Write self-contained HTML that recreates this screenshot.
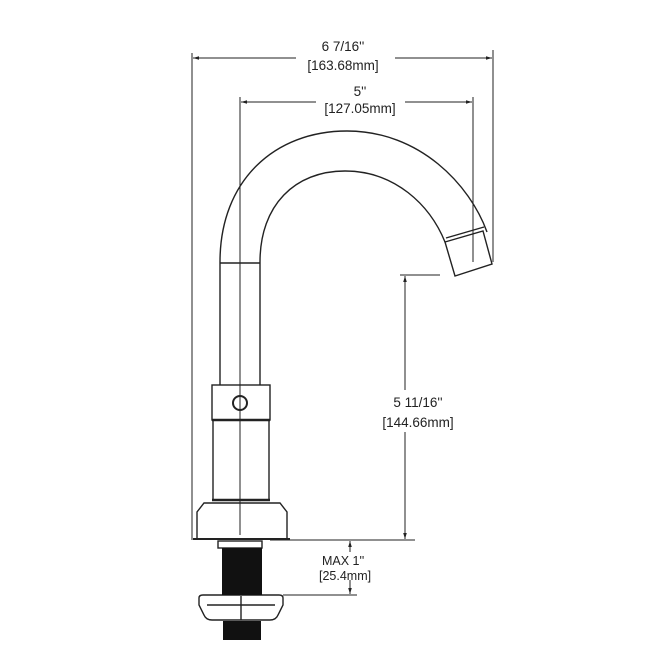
<!DOCTYPE html>
<html><head><style>html,body{margin:0;padding:0;background:#fff}svg{display:block}text{font-family:"Liberation Sans",sans-serif;font-size:13.5px;fill:#222}</style></head><body>
<svg width="668" height="671" viewBox="0 0 668 671" xmlns="http://www.w3.org/2000/svg">
<defs><marker id="a" viewBox="0 0 10 10" refX="10" refY="5" markerWidth="8" markerHeight="6" orient="auto-start-reverse"><path d="M0,2 L10,5 L0,8z" fill="#222"/></marker></defs>
<g stroke="#222" stroke-width="1" fill="none">
<line x1="192" y1="53" x2="192" y2="540"/>
<line x1="493" y1="50" x2="493" y2="262"/>
<line x1="193" y1="58" x2="296" y2="58" marker-start="url(#a)"/>
<line x1="395" y1="58" x2="492" y2="58" marker-end="url(#a)"/>
<line x1="240" y1="97" x2="240" y2="535"/>
<line x1="473" y1="97" x2="473" y2="262"/>
<line x1="241" y1="102" x2="316" y2="102" marker-start="url(#a)"/>
<line x1="405" y1="102" x2="472" y2="102" marker-end="url(#a)"/>
<line x1="400" y1="275" x2="440" y2="275"/>
<line x1="405" y1="276" x2="405" y2="390" marker-start="url(#a)"/>
<line x1="405" y1="432" x2="405" y2="539" marker-end="url(#a)"/>
<line x1="270" y1="540" x2="415" y2="540"/>
<line x1="283" y1="595" x2="357" y2="595"/>
<line x1="350" y1="541" x2="350" y2="552" marker-start="url(#a)"/>
<line x1="350" y1="580" x2="350" y2="594" marker-end="url(#a)"/>
</g>
<g stroke="#222" stroke-width="1.4" fill="none">
<path d="M220,385 L220,262 C220,180 275,131 347,131 C420,131 470,185 487,232"/>
<path d="M260,385 L260,262 C260,205 295,171 345,171 C395,171 430,205 445,242"/>
<line x1="220" y1="263" x2="260" y2="263"/>
<path d="M445,242 L483,231 L492,264 L455,276 Z"/>
<line x1="446" y1="238" x2="484" y2="227"/>
<rect x="212" y="385" width="58" height="35"/>
<circle cx="240" cy="403" r="7" stroke-width="2"/>
<line x1="212" y1="420" x2="270" y2="420" stroke-width="2.5"/>
<path d="M213,420 L213,500 M269,420 L269,500"/>
<line x1="212" y1="500" x2="270" y2="500" stroke-width="2.5"/>
<path d="M197,539 L197,512 L204,503 L280,503 L287,512 L287,539"/>
<line x1="193" y1="539" x2="290" y2="539" stroke-width="2"/>
<rect x="218" y="541" width="44" height="7"/>
<path d="M199,598 Q199,595 203,595 L279,595 Q283,595 283,598 L283,605 L278,615 Q276,620 270,620 L212,620 Q206,620 204,615 L199,605 Z"/>
<path d="M207,605 L275,605 M241,596 L241,620"/>
</g>
<rect x="222" y="548" width="40" height="47" fill="#111"/>
<rect x="223" y="621" width="38" height="19" fill="#111"/>
<text x="343" y="51" text-anchor="middle">6 7/16''</text>
<text x="343" y="70" text-anchor="middle">[163.68mm]</text>
<text x="360" y="96" text-anchor="middle">5''</text>
<text x="360" y="113" text-anchor="middle">[127.05mm]</text>
<text x="418" y="407" text-anchor="middle">5 11/16''</text>
<text x="418" y="427" text-anchor="middle">[144.66mm]</text>
<text x="322" y="565" style="font-size:12.5px">MAX 1''</text>
<text x="319" y="580" style="font-size:12.5px">[25.4mm]</text>
</svg>
</body></html>
